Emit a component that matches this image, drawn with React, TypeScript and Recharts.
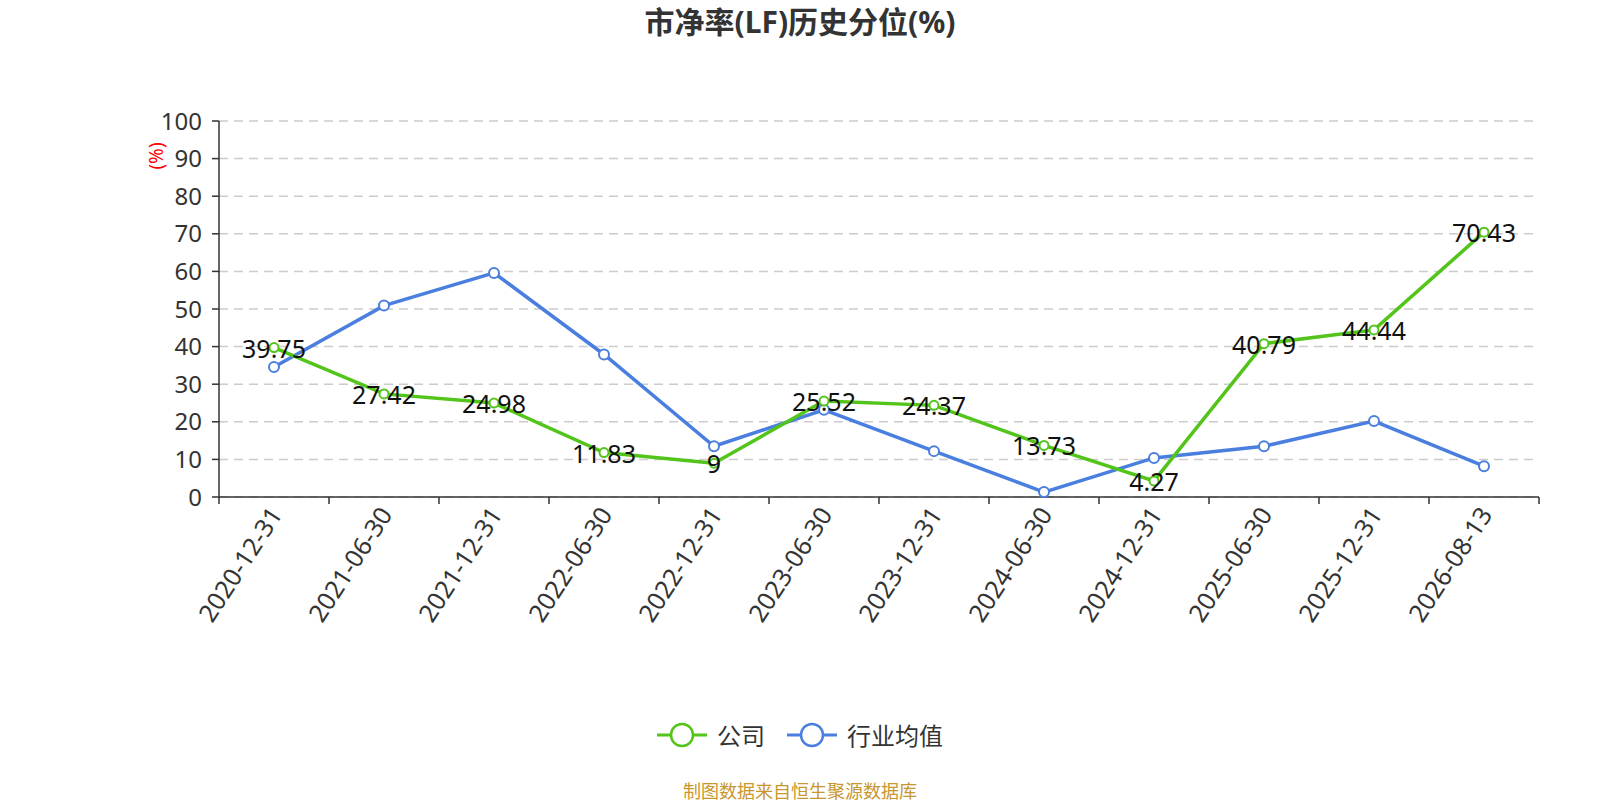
import { CartesianGrid, LabelList, Line, LineChart, XAxis, YAxis } from 'recharts';

const dates = [
  '2020-12-31',
  '2021-06-30',
  '2021-12-31',
  '2022-06-30',
  '2022-12-31',
  '2023-06-30',
  '2023-12-31',
  '2024-06-30',
  '2024-12-31',
  '2025-06-30',
  '2025-12-31',
  '2026-08-13',
];
const company = [39.75, 27.42, 24.98, 11.83, 9, 25.52, 24.37, 13.73, 4.27, 40.79, 44.44, 70.43];
const industry = [34.6, 50.9, 59.6, 37.9, 13.5, 23.2, 12.2, 1.3, 10.4, 13.5, 20.2, 8.2];
const yTicks = [0, 10, 20, 30, 40, 50, 60, 70, 80, 90, 100];

const data = dates.map((date, i) => ({ date, company: company[i], industry: industry[i] }));

const W = 1600;
const H = 800;
const LEFT = 219;
const RIGHT = 61;
const TOP = 121;
const XH = 303;
const BAND = (W - LEFT - RIGHT) / dates.length;

const GREEN = '#52c41a';
const BLUE = '#4a7fe0';
const FONT = "'Noto Sans', 'Noto Sans CJK SC', sans-serif";

function DateTick(props: any) {
  const { x, y, payload, index } = props;
  const tx = x + 1;
  const ty = y + 12;
  return (
    <g>
      <line x1={x - BAND / 2} y1={y} x2={x - BAND / 2} y2={y + 7} stroke="#333" strokeWidth={1.5} />
      {index === dates.length - 1 && (
        <line x1={x + BAND / 2} y1={y} x2={x + BAND / 2} y2={y + 7} stroke="#333" strokeWidth={1.5} />
      )}
      <text
        x={tx}
        y={ty}
        transform={`rotate(-57 ${tx} ${ty})`}
        textAnchor="end"
        dominantBaseline="central"
        fontSize={25}
        fill="#333"
        fontFamily={FONT}
      >
        {payload.value}
      </text>
    </g>
  );
}

function ValueLabel(props: any) {
  const { x, y, value } = props;
  return (
    <text x={x} y={y} textAnchor="middle" dominantBaseline="central" fontSize={25} fill="#111" fontFamily={FONT}>
      {value}
    </text>
  );
}

function LegendItem({ color, label }: { color: string; label: string }) {
  return (
    <div style={{ display: 'flex', alignItems: 'center' }}>
      <svg width={50} height={26}>
        <line x1={0} y1={13} x2={50} y2={13} stroke={color} strokeWidth={3} />
        <circle cx={25} cy={13} r={11} fill="#fff" stroke={color} strokeWidth={2.5} />
      </svg>
      <span style={{ fontSize: 24, color: '#333', marginLeft: 10 }}>{label}</span>
    </div>
  );
}

export default function App() {
  return (
    <div style={{ position: 'absolute', left: 0, top: 0, width: W, height: H, background: '#fff', fontFamily: FONT }}>
      <div
        style={{
          position: 'absolute',
          top: -2,
          width: W,
          textAlign: 'center',
          fontSize: 30,
          fontWeight: 'bold',
          color: '#333',
        }}
      >
        市净率(LF)历史分位(%)
      </div>
      <div
        style={{
          position: 'absolute',
          left: 156,
          top: 156,
          transform: 'translate(-50%, -50%) rotate(-90deg)',
          color: 'red',
          fontSize: 19,
          whiteSpace: 'nowrap',
        }}
      >
        (%)
      </div>
      <LineChart width={W} height={H} data={data} margin={{ top: TOP, right: RIGHT, left: 0, bottom: 0 }}>
        <CartesianGrid vertical={false} stroke="#ccc" strokeDasharray="9 6" strokeWidth={1.5} />
        <XAxis
          dataKey="date"
          height={XH}
          interval={0}
          padding={{ left: BAND / 2, right: BAND / 2 }}
          tickLine={false}
          tickSize={0}
          tickMargin={0}
          axisLine={{ stroke: '#333', strokeWidth: 1.5 }}
          tick={<DateTick />}
        />
        <YAxis
          width={LEFT}
          domain={[0, 100]}
          ticks={yTicks}
          interval={0}
          tickSize={7}
          tickMargin={10}
          axisLine={{ stroke: '#333', strokeWidth: 1.5 }}
          tickLine={{ stroke: '#333', strokeWidth: 1.5 }}
          tick={{ fill: '#333', fontSize: 24, fontFamily: FONT }}
        />
        <Line
          dataKey="industry"
          stroke={BLUE}
          strokeWidth={3.5}
          dot={{ r: 5, fill: '#fff', stroke: BLUE, strokeWidth: 2 }}
          isAnimationActive={false}
        />
        <Line
          dataKey="company"
          stroke={GREEN}
          strokeWidth={3.5}
          dot={{ r: 4.5, fill: '#fff', stroke: GREEN, strokeWidth: 2 }}
          isAnimationActive={false}
        >
          <LabelList dataKey="company" content={<ValueLabel />} />
        </Line>
      </LineChart>
      <div
        style={{
          position: 'absolute',
          top: 717,
          width: W,
          display: 'flex',
          justifyContent: 'center',
          gap: 22,
        }}
      >
        <LegendItem color={GREEN} label="公司" />
        <LegendItem color={BLUE} label="行业均值" />
      </div>
      <div
        style={{
          position: 'absolute',
          top: 777,
          width: W,
          textAlign: 'center',
          fontSize: 18,
          color: '#c8962e',
        }}
      >
        制图数据来自恒生聚源数据库
      </div>
    </div>
  );
}
